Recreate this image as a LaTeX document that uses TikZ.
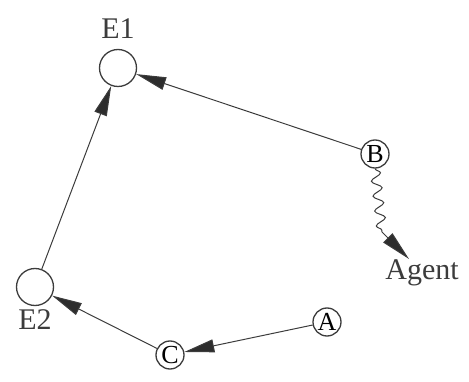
\documentclass[tikz,border=0pt]{standalone}
\usepackage{fontspec}
\setmainfont{Liberation Serif}
\usetikzlibrary{arrows.meta,decorations.pathmorphing}
\definecolor{ink}{RGB}{60,60,60}
\definecolor{tip}{RGB}{45,45,45}

\begin{document}
\begin{tikzpicture}[x=1pt,y=-1pt,
  state/.style={circle, draw=ink, line width=1.3pt, inner sep=0pt},
  big/.style={state, minimum size=37pt},
  small/.style={state, minimum size=28pt, font=\fontsize{26}{28}\selectfont},
  txt/.style={font=\fontsize{30}{32}\selectfont, text=ink},
  link/.style={draw=ink, line width=1pt, -{Triangle[length=30pt,width=13pt,fill=tip]}}]
  \useasboundingbox (0,0) rectangle (469,382);
  %% 1. Nodes
  \node[big, label={[txt, label distance=7pt]above:E1}] (E1) at (118,68) {};
  \node[big, label={[txt, label distance=0pt]below:E2}] (E2) at (35,287) {};
  \node[small] (B) at (375,154) {B};
  \node[small] (A) at (327,322) {A};
  \node[small] (C) at (170,355) {C};
  \node[txt] (agent) at (422,273) {Agent};
  \coordinate (bend) at (382,232);
  \coordinate (wend) at (409,259);
  %% 2. Arrows
  \draw[link] (B) -- (E1);
  \draw[link] (E2) -- (E1);
  \draw[link] (C) -- (E2);
  \draw[link] (A) -- (C);
  %% 3. Wavy arrow
  \draw[link] (B.south) decorate[decoration={snake, amplitude=5pt, segment length=15pt}] {-- (bend)} -- (wend);
\end{tikzpicture}
\end{document}
